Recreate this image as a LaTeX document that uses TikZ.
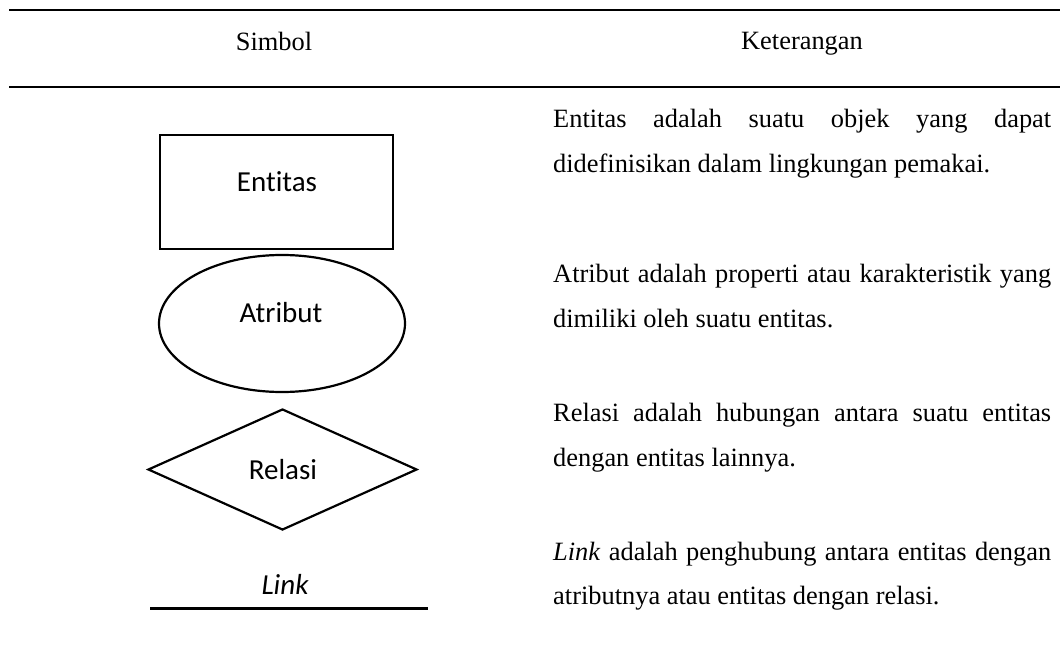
\documentclass[tikz,border=0pt]{standalone}
\usepackage{fontspec}
\setmainfont{Liberation Serif}
\newfontfamily\calibri[Ligatures={NoCommon,NoContextual}]{Carlito}
\usetikzlibrary{shapes.geometric}

\tikzset{
  rule/.style={line width=2pt},
  symbolshape/.style={draw, line width=2.2pt, inner sep=0pt},
  symboltext/.style={font=\calibri\fontsize{29}{34}\selectfont, inner sep=0pt, anchor=base},
  headtext/.style={font=\fontsize{26.4}{30}\selectfont, inner sep=0pt, anchor=base},
  desc/.style={font=\fontsize{26.4}{30}\selectfont, inner sep=0pt, anchor=base west},
}
\newcommand{\fullline}[1]{\makebox[498pt][s]{#1}}

\begin{document}
\begin{tikzpicture}[x=1pt,y=-1pt]
  \useasboundingbox (0,0) rectangle (1060,666);

  % table rules
  \coordinate (t1) at (9,10);
  \coordinate (t2) at (1060,10);
  \coordinate (h1) at (9,87);
  \coordinate (h2) at (1060,87);
  \draw[rule] (t1) -- (t2);
  \draw[rule] (h1) -- (h2);

  % header
  \node[headtext] (hsym) at (274,51) {Simbol};
  \node[headtext] (hket) at (802,50) {Keterangan};

  % symbols
  \node[symbolshape, rectangle, minimum width=233pt, minimum height=114pt] (entbox) at (276.5,192) {};
  \node[symboltext] (enttxt) at (277,191) {Ent\kern0pt itas};

  \node[symbolshape, ellipse, minimum width=246pt, minimum height=137pt] (atrshape) at (282,323.5) {};
  \node[symboltext] (atrtxt) at (281,322) {Atribut};

  \node[symbolshape, diamond, minimum width=269pt, minimum height=121pt] (relshape) at (282.5,469.5) {};
  \node[symboltext] (reltxt) at (283,479) {Relasi};

  \node[symboltext] (linktxt) at (285,594) {\itshape Link};
  \coordinate (l1) at (150,608.5);
  \coordinate (l2) at (428,608.5);
  \draw[line width=2.4pt] (l1) -- (l2);

  % descriptions
  \node[desc] (d1a) at (553,128) {\fullline{Entitas adalah suatu objek yang dapat}};
  \node[desc] (d1b) at (553,172) {didefinisikan dalam lingkungan pemakai.};

  \node[desc] (d2a) at (553,282) {\fullline{Atribut adalah properti atau karakteristik yang}};
  \node[desc] (d2b) at (553,327) {dimiliki oleh suatu entitas.};

  \node[desc] (d3a) at (553,421) {\fullline{Relasi adalah hubungan antara suatu entitas}};
  \node[desc] (d3b) at (553,466) {dengan entitas lainnya.};

  \node[desc] (d4a) at (553,560) {\fullline{\textit{Link} adalah penghubung antara entitas dengan}};
  \node[desc] (d4b) at (553,604) {atributnya atau entitas dengan relasi.};
\end{tikzpicture}
\end{document}
